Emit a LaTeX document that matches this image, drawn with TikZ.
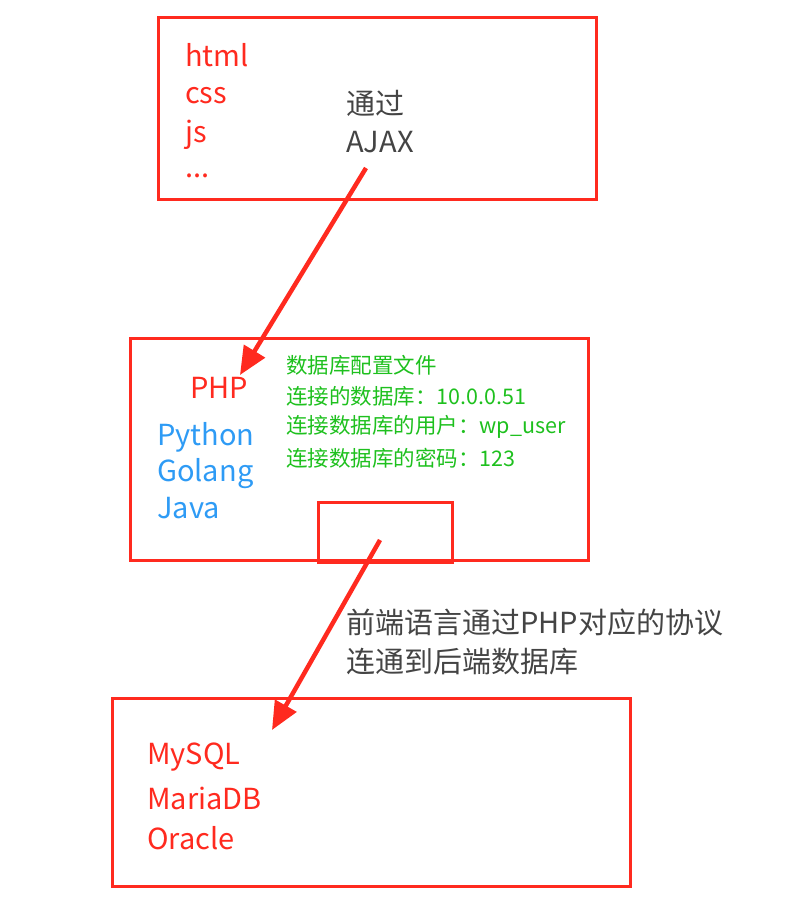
\documentclass[tikz,border=0pt]{standalone}
\usepackage{fontspec}
\setmainfont{Noto Sans CJK SC}
\usetikzlibrary{arrows.meta}
\definecolor{rd}{HTML}{FF2A1F}
\definecolor{bl}{HTML}{2E9BF5}
\definecolor{gr}{HTML}{1EC01E}
\definecolor{gy}{HTML}{444444}
\tikzset{
 box/.style={draw=rd,line width=3pt},
 txt/.style={anchor=west,inner sep=0pt,font=\fontsize{29}{32}\selectfont},
 small/.style={anchor=west,inner sep=0pt,font=\fontsize{21.5}{24}\selectfont,text=gr},
 arr/.style={draw=rd,line width=4.5pt,-{Triangle[length=28pt,width=24pt]}}
}
\begin{document}
\begin{tikzpicture}[x=1pt,y=-1pt]
\useasboundingbox (0,0) rectangle (796,917);
\draw[box] (158,18) rectangle (596,200);
\draw[box] (130,338) rectangle (588,560);
\draw[box] (318,502) rectangle (452,562);
\draw[box] (112,698) rectangle (630,886);
\node[txt,text=rd] (h1) at (185,55) {html};
\node[txt,text=rd] (h2) at (185,96) {css};
\node[txt,text=rd] (h3) at (185,135) {js};
\node[txt,text=rd] (h4) at (185,176) {...};
\node[txt,text=gy] (t1) at (346,103) {通过};
\node[txt,text=gy] (t2) at (346,142) {AJAX};
\node[txt,text=rd] (php) at (190,388) {PHP};
\node[txt,text=bl] (py) at (157,437) {Python};
\node[txt,text=bl] (go) at (157,474) {Golang};
\node[txt,text=bl] (ja) at (157,508) {Java};
\node[small] (g1) at (286,365) {数据库配置文件};
\node[small] (g2) at (286,396) {连接的数据库：10.0.0.51};
\node[small] (g3) at (286,427) {连接数据库的用户：wp\_user};
\node[small] (g4) at (286,458) {连接数据库的密码：123};
\node[txt,text=gy] (l1) at (346,622) {前端语言通过PHP对应的协议};
\node[txt,text=gy] (l2) at (346,662) {连通到后端数据库};
\node[txt,text=rd] (m1) at (147,757) {MySQL};
\node[txt,text=rd] (m2) at (147,798) {MariaDB};
\node[txt,text=rd] (m3) at (147,838) {Oracle};
\coordinate (a1s) at (366,168);
\coordinate (a1e) at (240,375);
\coordinate (a2s) at (380,540);
\coordinate (a2e) at (272,730);
\draw[arr] (a1s) -- (a1e);
\draw[arr] (a2s) -- (a2e);
\end{tikzpicture}
\end{document}
